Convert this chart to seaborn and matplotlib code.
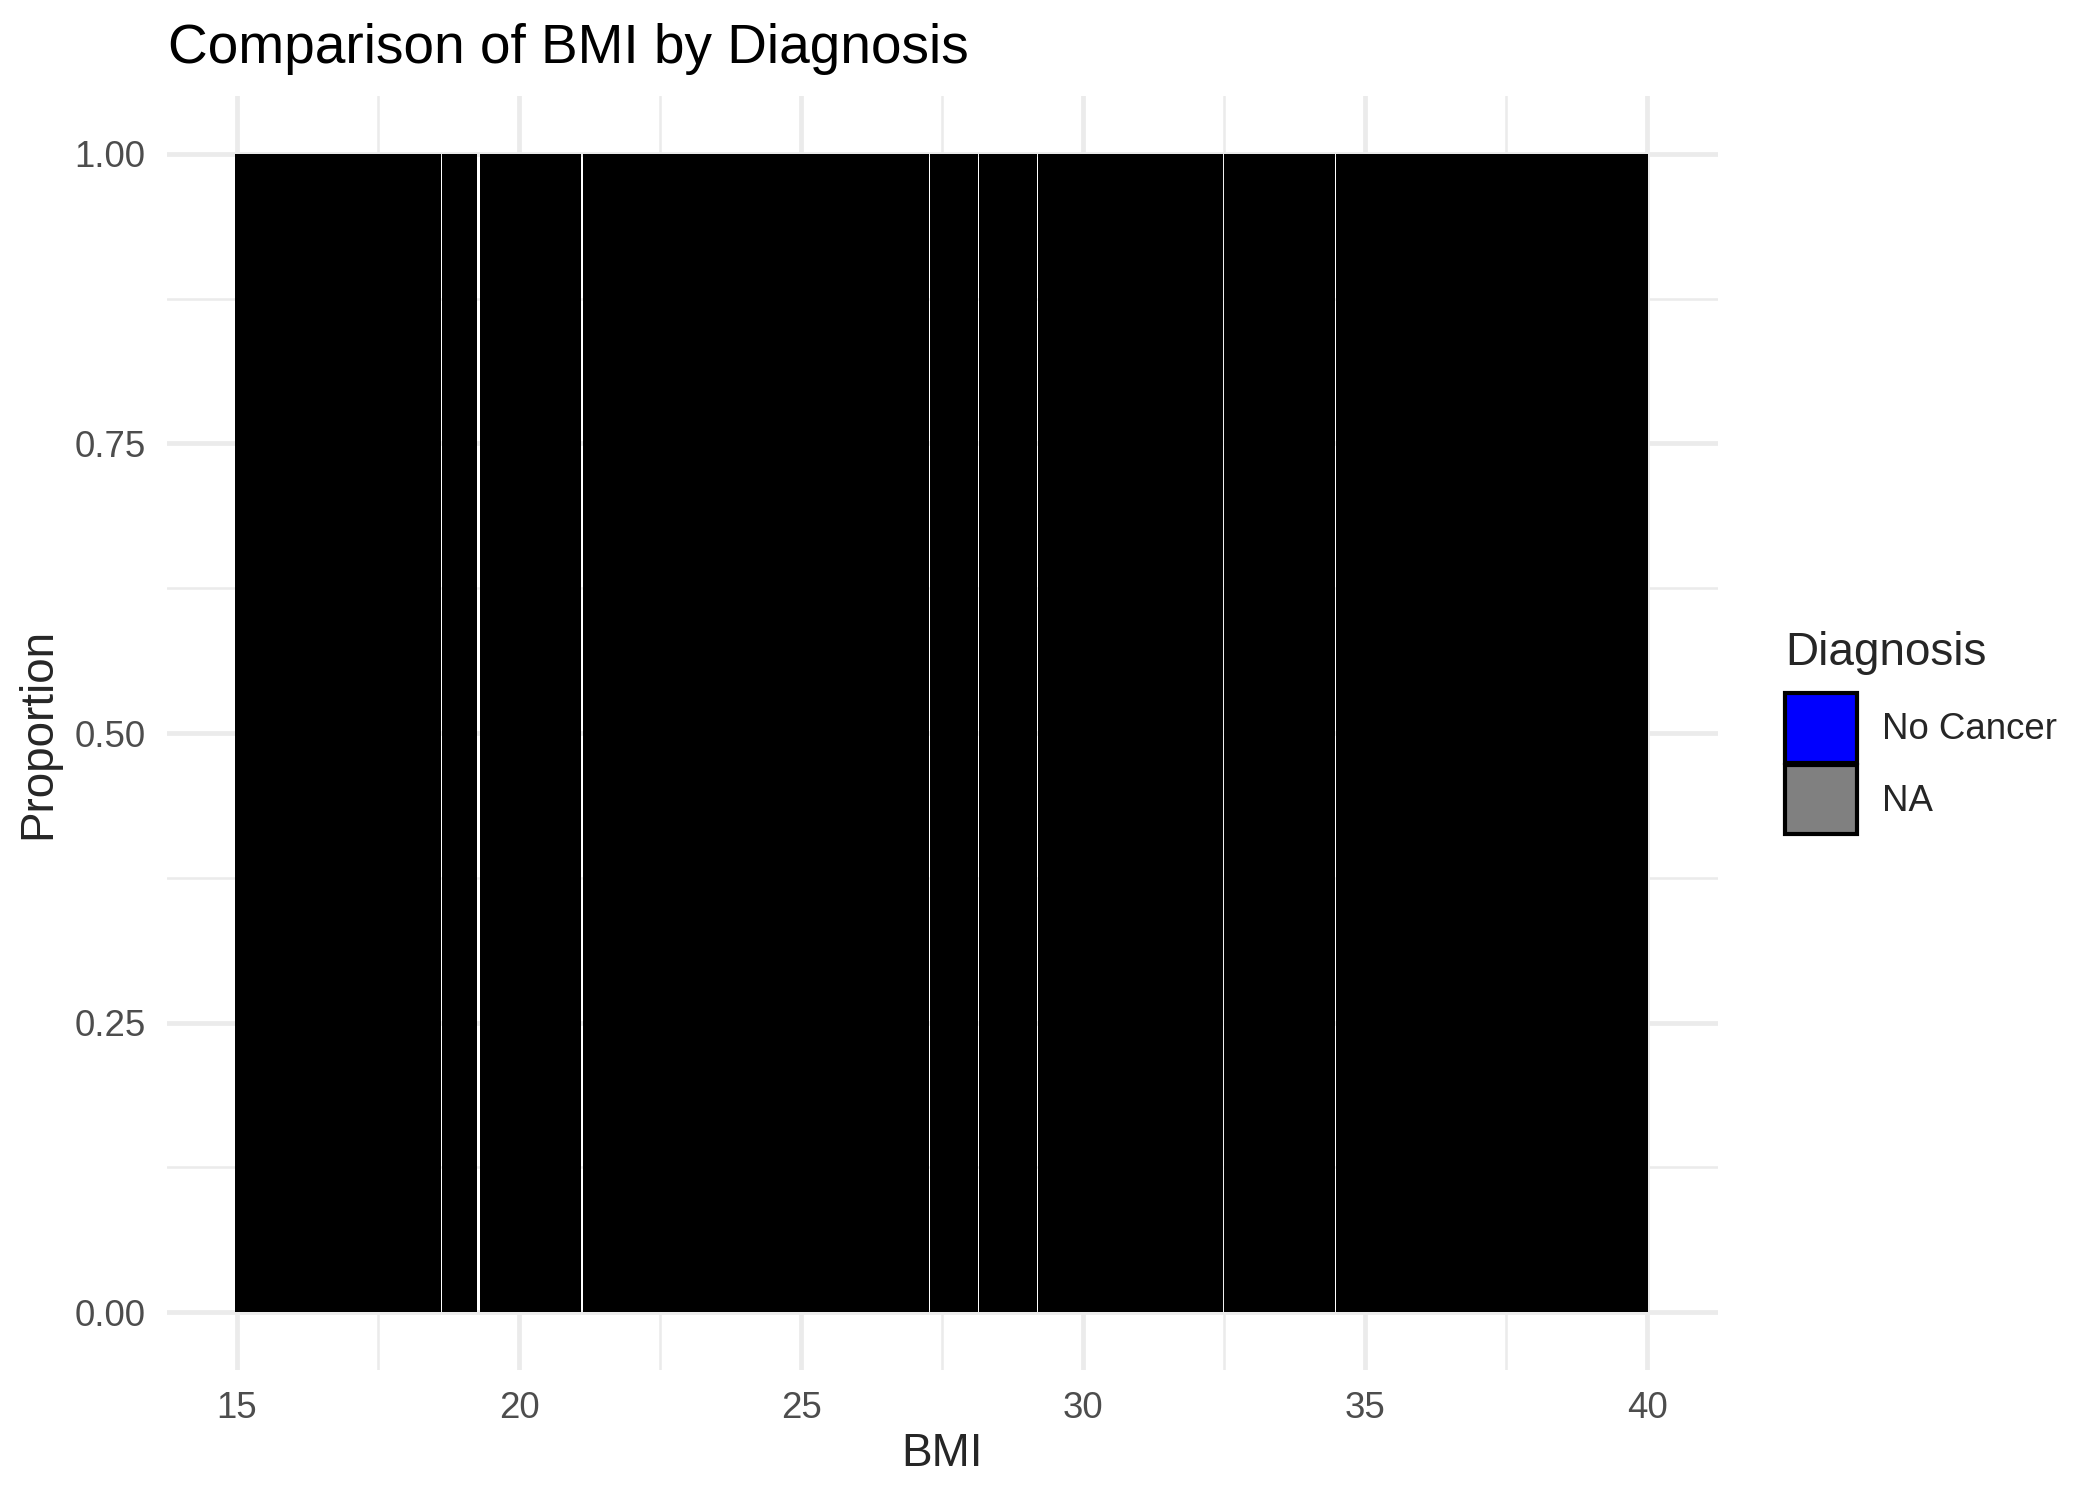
import numpy as np
import pandas as pd
import seaborn as sns
import matplotlib.pyplot as plt
from matplotlib.patches import Patch
from matplotlib.ticker import MultipleLocator

# BMI ranges covered by bars (every bar is 100% "No Cancer")
bmi_start = [14.97, 18.635, 19.30, 21.13, 26.99, 27.28, 28.15, 29.20, 32.50, 34.478]
bmi_end = [18.625, 19.26, 21.10, 26.977, 27.27, 28.14, 29.18, 32.48, 34.468, 40.02]
proportion = [1.0, 1.0, 1.0, 1.0, 1.0, 1.0, 1.0, 1.0, 1.0, 1.0]

diagnosis = ['No Cancer', 'NA']
diag_colors = ['#0000FF', '#808080']

x_ticks = [15, 20, 25, 30, 35, 40]
y_ticks = [0.0, 0.25, 0.5, 0.75, 1.0]

df = pd.DataFrame({'start': bmi_start, 'end': bmi_end, 'prop': proportion})
df['width'] = df['end'] - df['start']

sns.set_theme(style='white')
plt.rcParams['font.family'] = ['Liberation Sans', 'DejaVu Sans']

fig = plt.figure(figsize=(7, 1499 / 300), dpi=300)
ax = fig.add_axes([0.0793, 0.086, 0.7386, 0.85])

ax.bar(df['start'], df['prop'], width=df['width'], align='edge',
       color='black', linewidth=0)

ax.set_xlim(13.75, 41.25)
ax.set_ylim(-0.05, 1.05)
ax.set_xticks(x_ticks)
ax.set_yticks(y_ticks)
ax.set_yticklabels([f'{v:.2f}' for v in y_ticks])
ax.xaxis.set_minor_locator(MultipleLocator(2.5))
ax.yaxis.set_minor_locator(MultipleLocator(0.125))
ax.grid(which='major', color='#EBEBEB', linewidth=1.15)
ax.grid(which='minor', color='#EBEBEB', linewidth=0.6)
ax.set_axisbelow(True)
for s in ax.spines.values():
    s.set_visible(False)
ax.tick_params(which='both', length=0)
ax.tick_params(axis='both', labelsize=8.8, labelcolor='#4D4D4D', pad=5)
ax.set_xlabel('')
ax.set_ylabel('')

fig.text(168 / 2100, 1 - 63 / 1499, 'Comparison of BMI by Diagnosis',
         fontsize=13.2, ha='left', va='baseline', color='black')
fig.text(942 / 2100, 1 - 1466 / 1499, 'BMI', fontsize=11, ha='center', va='baseline')
fig.text(38 / 2100, 1 - 733 / 1499, 'Proportion', fontsize=11, rotation=90,
         ha='center', va='center')

# legend
fig.text(1785 / 2100, 1 - 665 / 1499, 'Diagnosis', fontsize=11, ha='left', va='baseline')
handles = [Patch(facecolor=c, edgecolor='black', linewidth=1.0) for c in diag_colors]
leg = fig.legend(handles, diagnosis, loc='upper left',
                 bbox_to_anchor=(1785 / 2100, 1 - 693 / 1499), frameon=False,
                 fontsize=8.8, handlelength=1.95, handleheight=2.55,
                 labelspacing=0.05, handletextpad=0.7, borderpad=0, borderaxespad=0)

fig.savefig('out.png', dpi=300, facecolor='white')
